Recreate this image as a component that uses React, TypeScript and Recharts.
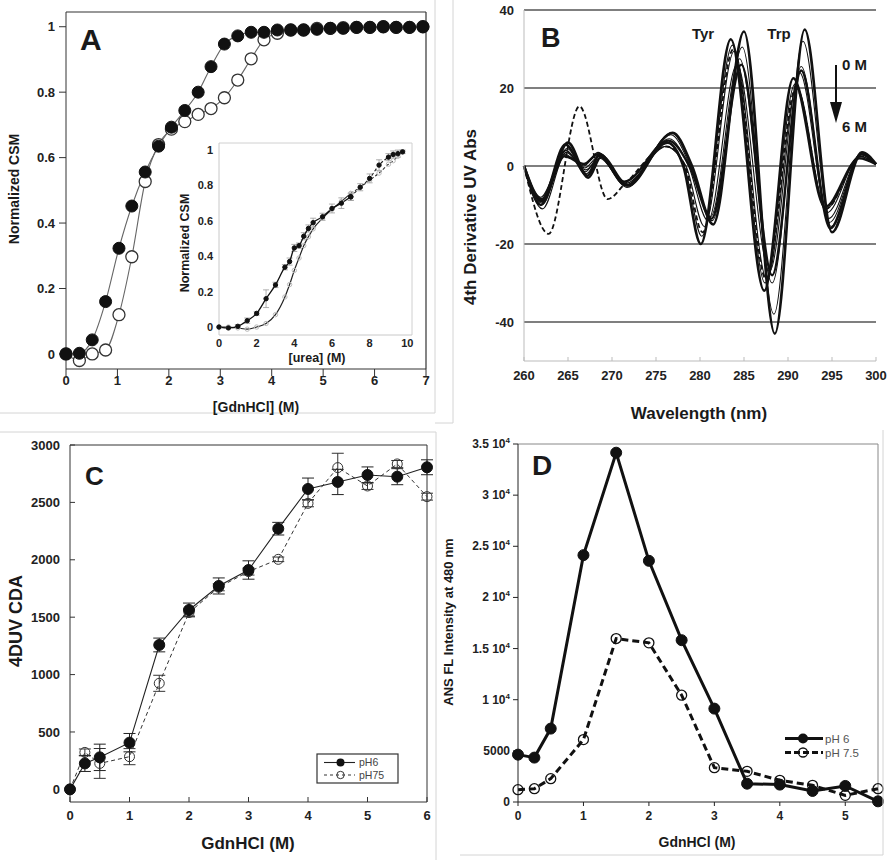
import React from 'react';
import { ComposedChart, LineChart, Line, XAxis, YAxis, ErrorBar, ReferenceLine } from 'recharts';

const FONT = '"Liberation Sans", Arial, Helvetica, sans-serif';

// ---- Panel A: CSM vs GdnHCl ----
const gdnX = [0, 0.26, 0.51, 0.77, 1.03, 1.28, 1.54, 1.8, 2.05, 2.31, 2.57, 2.82, 3.08, 3.34, 3.6, 3.85, 4.11, 4.37, 4.62, 4.88, 5.14, 5.39, 5.65, 5.91, 6.17, 6.42, 6.68, 6.94];
const csmFilled = [0, 0.002, 0.043, 0.16, 0.323, 0.452, 0.556, 0.635, 0.693, 0.744, 0.8, 0.878, 0.947, 0.972, 0.983, 0.983, 0.99, 0.99, 0.99, 0.992, 0.995, 0.995, 0.998, 0.998, 1.0, 0.998, 0.998, 1.0];
const csmOpen = [0, -0.02, 0.0, 0.012, 0.12, 0.297, 0.527, 0.64, 0.687, 0.71, 0.732, 0.75, 0.783, 0.837, 0.902, 0.96, 0.98, 0.99, 0.99, 0.995, 0.995, 0.997, 0.998, 0.998, 1.0, 0.998, 0.998, 1.0];
const gdnTicksA = [0, 1, 2, 3, 4, 5, 6, 7];
const csmTicks = [0, 0.2, 0.4, 0.6, 0.8, 1];

// inset: urea
const ureaX = [0, 0.5, 1, 1.5, 2, 2.5, 3, 3.5, 3.75, 4, 4.25, 4.5, 4.75, 5, 5.5, 6, 6.5, 7, 7.5, 8, 8.5, 9, 9.25, 9.5, 9.75];
const ureaFilled = [0, -0.005, 0.004, 0.036, 0.077, 0.16, 0.238, 0.338, 0.37, 0.447, 0.46, 0.513, 0.557, 0.59, 0.623, 0.67, 0.7, 0.736, 0.79, 0.84, 0.915, 0.96, 0.975, 0.98, 0.99];
const ureaFilledErr = [0, 0, 0.01, 0.015, 0.01, 0.05, 0.015, 0.015, 0.02, 0.02, 0.015, 0.02, 0.02, 0.025, 0.02, 0.025, 0.03, 0.02, 0.02, 0.025, 0.03, 0.02, 0.02, 0.02, 0.01];
const ureaOpen = [0, 0, -0.005, -0.012, 0.0, 0.02, 0.07, 0.17, 0.24, 0.32, 0.39, 0.46, 0.51, 0.555, 0.615, 0.665, 0.71, 0.755, 0.79, 0.83, 0.87, 0.92, 0.94, 0.965, 0.99];
const ureaTicks = [0, 2, 4, 6, 8, 10];

// ---- Panel B: 4th derivative spectra (key points) ----
const uv1: [number, number][] = [[260, 0], [262, -9], [264.7, 5.5], [267.2, -2.5], [268.6, 3], [271.6, -5], [276.3, 6], [278.1, 0], [280.1, -20], [283.5, 32.5], [287.3, -32], [290.6, 22.5], [294.2, -10.5], [298.1, 2], [300, 0.5]];
const uv2: [number, number][] = [[260, 0], [262, -10], [264.8, 4], [267, -1.5], [268.5, 2.5], [271.5, -4.5], [276.2, 5], [278.2, 0], [280.2, -18], [283.7, 31], [287.4, -30], [290.8, 21], [294.3, -11], [298.2, 2.5], [300, 0.5]];
const uv3: [number, number][] = [[260, 0], [261.9, -8], [264.6, 3], [266.8, 0], [268.4, 3.5], [271.4, -4], [276, 5], [278.4, 0], [280.5, -15.5], [283.9, 29.5], [287.6, -29], [291, 20], [294.4, -12], [298.2, 2.5], [300, 0.5]];
const uv4: [number, number][] = [[260, 0], [262, -9.5], [264.9, 4.5], [267, -1], [268.6, 2], [271.6, -5], [276.5, 7], [278.7, 0], [280.9, -14], [284.2, 26], [287.9, -27], [291.3, 24], [294.6, -13.5], [298.3, 3], [300, 0.5]];
const uv5: [number, number][] = [[260, 0], [262.1, -11], [264.8, 3.5], [266.9, -0.5], [268.5, 2.5], [271.5, -5], [276.7, 8], [278.9, 0], [281.2, -13], [284.5, 27.5], [288.2, -30], [291.5, 25.5], [294.7, -14.5], [298.3, 3], [300, 0.5]];
const uv6: [number, number][] = [[260, 0], [262, -9], [264.7, 4], [267.1, -2], [268.7, 3], [271.7, -5.5], [276.8, 8.5], [279, 0], [281.4, -14], [284.8, 30.5], [288.4, -38], [291.7, 32], [294.9, -15.5], [298.4, 3.5], [300, 0.5]];
const uv7: [number, number][] = [[260, 0], [262, -8.5], [265, 6], [267.3, -3], [268.8, 2.5], [271.8, -5], [276.9, 8.5], [279.1, 0], [281.5, -15], [285, 34.5], [288.5, -43], [291.9, 35], [295, -17], [298.4, 3.5], [300, 0.5]];
const uv8: [number, number][] = [[260, 0], [261.9, -10], [264.6, 2.5], [266.8, 0.5], [268.4, 3], [271.4, -4], [276.4, 6.5], [278.8, 0], [281.3, -13.5], [284.7, 26], [288.2, -28], [291.5, 24.5], [294.8, -16], [298.3, 3], [300, 0.5]];
const uvDashed: [number, number][] = [[260, 0], [262.8, -17.4], [266.3, 15.3], [269.5, -8.5], [271.5, -4.5], [276.2, 5], [278.3, 0], [280.3, -17], [283.8, 30], [287.5, -29], [290.9, 20], [294.3, -11], [298.2, 2.5], [300, 0.5]];
const uvSolid = [uv2, uv3, uv4, uv5, uv6, uv8, uv1, uv7];
const uvWidths = [1.1, 1.1, 1.1, 1.1, 1.1, 2.4, 2.6, 2.6];
const wlTicks = [260, 265, 270, 275, 280, 285, 290, 295, 300];
const uvTicks = [-40, -20, 0, 20, 40];

// ---- Panel C: 4DUV CDA ----
const cdaX = [0, 0.25, 0.5, 1, 1.5, 2, 2.5, 3, 3.5, 4, 4.5, 5, 5.5, 6];
const cdaPh6 = [0, 226, 279, 407, 1258, 1563, 1772, 1911, 2271, 2617, 2678, 2739, 2724, 2806];
const cdaPh6Err = [0, 70, 115, 80, 60, 60, 70, 80, 55, 95, 110, 70, 70, 65];
const cdaPh75 = [0, 322, 226, 285, 924, 1540, 1760, 1897, 2004, 2492, 2803, 2643, 2835, 2550];
const cdaPh75Err = [0, 30, 130, 70, 70, 30, 30, 30, 20, 30, 125, 30, 30, 30];
const cdaTicks = [0, 500, 1000, 1500, 2000, 2500, 3000];
const gdnTicksC = [0, 1, 2, 3, 4, 5, 6];

// ---- Panel D: ANS fluorescence ----
const ansX = [0, 0.25, 0.5, 1, 1.5, 2, 2.5, 3, 3.5, 4, 4.5, 5, 5.5];
const ansPh6 = [4630, 4340, 7175, 24135, 34150, 23580, 15820, 9130, 1790, 1700, 1080, 1570, 65];
const ansPh75 = [1207, 1300, 2283, 6100, 15980, 15560, 10440, 3360, 3000, 2120, 1630, 650, 1300];
const ansTicks = [0, 5000, 10000, 15000, 20000, 25000, 30000, 35000];
const gdnTicksD = [0, 1, 2, 3, 4, 5];

const bold = (size: number) => ({ fontFamily: FONT, fontSize: size, fontWeight: 700, fill: '#222' });

const filledDot = (r: number, color = '#111') => (p: any) => (
  <circle key={`f${p.index}`} cx={p.cx} cy={p.cy} r={r} fill={color} stroke={color} />
);
const openDot = (r: number, color = '#222', fill = 'none', sw = 1.2) => (p: any) => (
  <circle key={`o${p.index}`} cx={p.cx} cy={p.cy} r={r} fill={fill} stroke={color} strokeWidth={sw} />
);

function PanelA() {
  const filled = gdnX.map((x, i) => ({ x, y: csmFilled[i] }));
  const open = gdnX.map((x, i) => ({ x, y: csmOpen[i] }));
  return (
    <LineChart width={444} height={420} margin={{ top: 12, right: 18, bottom: 21, left: 16 }}>
      <XAxis type="number" dataKey="x" domain={[0, 7]} ticks={gdnTicksA} height={30} tickSize={7} tickMargin={0}
        stroke="#333" tick={bold(13)} />
      <YAxis type="number" domain={[-0.046, 1.045]} ticks={csmTicks} width={50} tickSize={7} tickMargin={4}
        stroke="#333" tick={bold(13)} />
      <ReferenceLine y={1.045} stroke="#333" strokeWidth={1.2} />
      <ReferenceLine x={7} stroke="#333" strokeWidth={1.2} />
      <Line data={open} dataKey="y" type="monotone" stroke="#666" strokeWidth={1.1}
        dot={openDot(6, '#333', '#fff', 1.3)} isAnimationActive={false} />
      <Line data={filled} dataKey="y" type="monotone" stroke="#666" strokeWidth={1.1}
        dot={filledDot(6)} isAnimationActive={false} />
    </LineChart>
  );
}

function InsetA() {
  const a = ureaX.map((x, i) => ({ x, y: ureaFilled[i], err: ureaFilledErr[i] }));
  const b = ureaX.map((x, i) => ({ x, y: ureaOpen[i], err: ureaFilledErr[i] }));
  return (
    <LineChart width={240} height={240} margin={{ top: 13, right: 8, bottom: 15, left: 0 }}>
      <XAxis type="number" dataKey="x" domain={[0, 10.25]} ticks={ureaTicks} height={20} tickLine={false}
        tickSize={0} tickMargin={4} stroke="#c8c8c8" tick={bold(11)} />
      <YAxis type="number" domain={[-0.045, 1.04]} ticks={csmTicks} width={39} tickLine={false}
        tickSize={0} tickMargin={6} stroke="#c8c8c8" tick={bold(11)} />
      <ReferenceLine y={1.04} stroke="#d0d0d0" />
      <ReferenceLine x={10.25} stroke="#d0d0d0" />
      <Line data={b.filter((d) => d.x <= 7)} dataKey="y" type="monotone" stroke="#222" strokeWidth={1.2}
        dot={openDot(2.2, '#bbb', 'none', 1)} isAnimationActive={false} />
      <Line data={b.filter((d) => d.x >= 7)} dataKey="y" type="monotone" stroke="#333" strokeWidth={1.1}
        strokeDasharray="3 2" dot={openDot(2.2, '#bbb', 'none', 1)} isAnimationActive={false} />
      <Line data={a.filter((d) => d.x <= 7)} dataKey="y" type="monotone" stroke="#111" strokeWidth={1.3}
        dot={filledDot(2.2)} isAnimationActive={false}>
        <ErrorBar dataKey="err" width={3} stroke="#999" strokeWidth={0.8} direction="y" />
      </Line>
      <Line data={a.filter((d) => d.x >= 7)} dataKey="y" type="monotone" stroke="#222" strokeWidth={1.1}
        strokeDasharray="3 2" dot={filledDot(2.2)} isAnimationActive={false}>
        <ErrorBar dataKey="err" width={3} stroke="#999" strokeWidth={0.8} direction="y" />
      </Line>
    </LineChart>
  );
}

function PanelB() {
  const toPts = (c: [number, number][]) => c.map(([x, y]) => ({ x, y }));
  return (
    <LineChart width={444} height={430} margin={{ top: 9, right: 12, bottom: 39, left: 0 }}>
      <XAxis xAxisId="top" orientation="top" type="number" dataKey="x" domain={[260, 300]} ticks={wlTicks}
        height={1} tick={false} tickSize={4} axisLine={false} stroke="#999" />
      <XAxis type="number" dataKey="x" domain={[260, 300]} ticks={wlTicks} height={30} tickSize={-4}
        tickMargin={13.5} stroke="#bbb" tick={bold(13)} />
      <YAxis type="number" domain={[-50, 40]} ticks={uvTicks} width={80} tickLine={false} tickSize={0}
        tickMargin={10} stroke="#bbb" tick={bold(13)} />
      {uvTicks.map((v) => (
        <ReferenceLine key={v} y={v} stroke="#555" strokeWidth={1.4} />
      ))}
      <Line data={toPts(uvDashed)} dataKey="y" type="monotone" stroke="#111" strokeWidth={1.8}
        strokeDasharray="5 3" dot={false} isAnimationActive={false} />
      {uvSolid.map((c, i) => (
        <Line key={i} data={toPts(c)} dataKey="y" type="monotone" stroke="#111" strokeWidth={uvWidths[i]}
          dot={false} isAnimationActive={false} />
      ))}
    </LineChart>
  );
}

function PanelC() {
  const ph6 = cdaX.map((x, i) => ({ x, y: cdaPh6[i], err: cdaPh6Err[i] }));
  const ph75 = cdaX.map((x, i) => ({ x, y: cdaPh75[i], err: cdaPh75Err[i] }));
  return (
    <ComposedChart width={444} height={430} margin={{ top: 14, right: 16, bottom: 28, left: 0 }}>
      <XAxis xAxisId="top" orientation="top" type="number" dataKey="x" domain={[0, 6]} ticks={gdnTicksC}
        height={1} tick={false} tickSize={-5} stroke="#333" />
      <XAxis type="number" dataKey="x" domain={[0, 6]} ticks={gdnTicksC} height={30} tickSize={-5}
        tickMargin={13.5} stroke="#333" tick={bold(13)} />
      <YAxis type="number" domain={[-110, 3000]} ticks={cdaTicks} width={70} tickSize={-5} tickMargin={15}
        stroke="#333" tick={bold(13)} />
      <YAxis yAxisId="right" orientation="right" type="number" domain={[-110, 3000]} ticks={cdaTicks}
        width={1} tick={false} tickSize={-5} stroke="#333" />
      <Line data={ph75} dataKey="y" type="linear" stroke="#333" strokeWidth={1} strokeDasharray="4 3"
        dot={openDot(5, '#333', 'none', 1)} isAnimationActive={false}>
        <ErrorBar dataKey="err" width={6} stroke="#333" strokeWidth={1} direction="y" />
      </Line>
      <Line data={ph6} dataKey="y" type="linear" stroke="#222" strokeWidth={1.1}
        dot={filledDot(5.5)} isAnimationActive={false}>
        <ErrorBar dataKey="err" width={6} stroke="#222" strokeWidth={1} direction="y" />
      </Line>
    </ComposedChart>
  );
}

function AnsTick(props: any) {
  const { x, y, payload } = props;
  const v = payload.value as number;
  const st = { fontFamily: FONT, fontSize: 12, fontWeight: 700, fill: '#222' } as const;
  if (v < 10000) {
    return (
      <text x={x} y={y} dy={4} textAnchor="end" {...st}>{v}</text>
    );
  }
  return (
    <text x={x} y={y} dy={4} textAnchor="end" {...st}>
      {`${v / 10000} 10`}
      <tspan fontSize={8} dy={-5}>4</tspan>
    </text>
  );
}

function PanelD() {
  const ph6 = ansX.map((x, i) => ({ x, y: ansPh6[i] }));
  const ph75 = ansX.map((x, i) => ({ x, y: ansPh75[i] }));
  return (
    <LineChart width={444} height={430} margin={{ top: 14, right: 10, bottom: 28, left: 0 }}>
      <XAxis type="number" dataKey="x" domain={[0, 5.5]} ticks={gdnTicksD} height={30} tickSize={4}
        tickMargin={5} stroke="#222" tick={bold(12)} />
      <YAxis type="number" domain={[0, 35000]} ticks={ansTicks} width={74} tickSize={5} tickMargin={3}
        stroke="#222" tick={<AnsTick />} />
      <ReferenceLine y={35000} stroke="#888" />
      <ReferenceLine x={5.5} stroke="#888" />
      <Line data={ph75} dataKey="y" type="linear" stroke="#111" strokeWidth={3} strokeDasharray="7 4"
        dot={openDot(5, '#111', 'none', 1.3)} isAnimationActive={false} />
      <Line data={ph6} dataKey="y" type="linear" stroke="#111" strokeWidth={3}
        dot={filledDot(5.5)} isAnimationActive={false} />
    </LineChart>
  );
}

function Overlay() {
  const t = (size: number, weight = 700) => ({ fontFamily: FONT, fontSize: size, fontWeight: weight, fill: '#1a1a1a' });
  return (
    <svg width={888} height={860} style={{ position: 'absolute', left: 0, top: 0, pointerEvents: 'none' }}>
      {/* faint panel borders */}
      <g stroke="#d4d4d4" strokeWidth={1} fill="none">
        <polyline points="0,413 435,413 435,0" />
        <polyline points="435,423 453,423 453,0" />
        <polyline points="0,432 436,432 436,860" />
        <polyline points="883,430 883,855 460,855" />
      </g>

      {/* Panel A */}
      <text x={80} y={50} {...t(30)}>A</text>
      <text x={256} y={412} textAnchor="middle" {...t(14)}>[GdnHCl] (M)</text>
      <text transform="translate(19,189) rotate(-90)" textAnchor="middle" {...t(14)}>Normalized CSM</text>
      <text x={317} y={362} textAnchor="middle" {...t(12.5)}>[urea] (M)</text>
      <text transform="translate(188.5,243) rotate(-90)" textAnchor="middle" {...t(12.5)}>Normalized CSM</text>

      {/* Panel B */}
      <text x={541} y={47} {...t(27)}>B</text>
      <text x={703} y={38.5} textAnchor="middle" {...t(15)}>Tyr</text>
      <text x={779} y={38.5} textAnchor="middle" {...t(15)}>Trp</text>
      <text x={842} y={70} {...t(15)}>0 M</text>
      <text x={842} y={132} {...t(15)}>6 M</text>
      <line x1={836} y1={65} x2={836} y2={106} stroke="#111" strokeWidth={2} />
      <polygon points="830,102 842,102 836,123" fill="#111" />
      <text x={699} y={419} textAnchor="middle" {...t(17)}>Wavelength (nm)</text>
      <text transform="translate(476,217) rotate(-90)" textAnchor="middle" {...t(17)}>4th Derivative UV Abs</text>

      {/* Panel C */}
      <text x={85} y={485} {...t(26)}>C</text>
      <text x={248} y={849} textAnchor="middle" {...t(17)}>GdnHCl (M)</text>
      <text transform="translate(21.5,621) rotate(-90)" textAnchor="middle" {...t(18)}>4DUV CDA</text>
      <rect x={317} y={754} width={81} height={29} fill="#fff" stroke="#333" strokeWidth={1.2} />
      <line x1={324} y1={762.5} x2={355} y2={762.5} stroke="#222" strokeWidth={1.1} />
      <circle cx={340.5} cy={762.5} r={4} fill="#111" />
      <text x={359} y={766.3} {...t(10.5, 400)} fill="#444">pH6</text>
      <line x1={324} y1={775} x2={355} y2={775} stroke="#333" strokeWidth={1} strokeDasharray="3 3" />
      <circle cx={340.5} cy={775} r={3.7} fill="none" stroke="#333" strokeWidth={1} />
      <text x={359} y={778.8} {...t(10.5, 400)} fill="#444">pH75</text>

      {/* Panel D */}
      <text x={532} y={475} {...t(28)}>D</text>
      <text x={697} y={847} textAnchor="middle" {...t(14)}>GdnHCl (M)</text>
      <text transform="translate(452.5,622) rotate(-90)" textAnchor="middle" {...t(13)}>ANS FL Intensity at 480 nm</text>
      <line x1={785} y1={738.5} x2={823} y2={738.5} stroke="#111" strokeWidth={3} />
      <circle cx={803} cy={738.5} r={5} fill="#111" />
      <text x={825} y={742.6} {...t(11.5, 400)} fill="#555">pH 6</text>
      <line x1={785} y1={752.5} x2={823} y2={752.5} stroke="#111" strokeWidth={3} strokeDasharray="6 3" />
      <circle cx={803} cy={752.5} r={4.5} fill="none" stroke="#111" strokeWidth={1.3} />
      <text x={825} y={756.6} {...t(11.5, 400)} fill="#555">pH 7.5</text>
    </svg>
  );
}

export default function App() {
  return (
    <div style={{ position: 'absolute', left: 0, top: 0, width: 888, height: 860, background: '#fff', overflow: 'hidden', fontFamily: FONT }}>
      <div style={{ position: 'absolute', left: 0, top: 0 }}><PanelA /></div>
      <div style={{ position: 'absolute', left: 180, top: 130 }}><InsetA /></div>
      <div style={{ position: 'absolute', left: 444, top: 0 }}><PanelB /></div>
      <div style={{ position: 'absolute', left: 0, top: 430 }}><PanelC /></div>
      <div style={{ position: 'absolute', left: 444, top: 430 }}><PanelD /></div>
      <Overlay />
    </div>
  );
}
